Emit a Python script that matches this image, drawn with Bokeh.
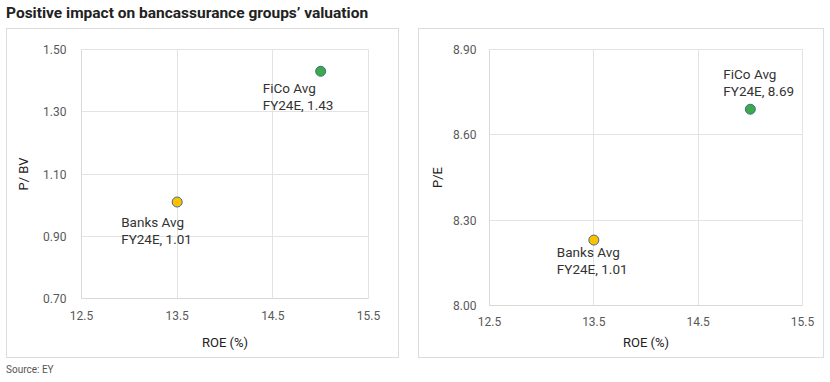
from bokeh.plotting import figure
from bokeh.layouts import column, row
from bokeh.models import Div, FixedTicker, NumeralTickFormatter, Range1d, ColumnDataSource
from bokeh.core.properties import value
from bokeh.embed import file_html
from bokeh.resources import INLINE

# ---- data ----
groups = ["Banks Avg", "FiCo Avg"]
roe = [13.5, 15.0]
pbv = [1.01, 1.43]
pe = [8.23, 8.69]
labels_pbv = ["Banks Avg\nFY24E, 1.01", "FiCo Avg\nFY24E, 1.43"]
labels_pe = ["Banks Avg\nFY24E, 1.01", "FiCo Avg\nFY24E, 8.69"]
x_ticks = [12.5, 13.5, 14.5, 15.5]
pbv_ticks = [0.70, 0.90, 1.10, 1.30, 1.50]
pe_ticks = [8.00, 8.30, 8.60, 8.90]

FONT = "Roboto"
fills = ["#FFC000", "#3DAA4A"]
GRID = "#e3e3e3"


def make_panel(yvals, labels, yticks, ylabel, width, borders, x_off, y_off,
               y_std, x_std):
    left, right, top, bottom = borders
    p = figure(width=width, height=330, output_backend="svg", toolbar_location=None,
               x_range=Range1d(x_ticks[0], x_ticks[-1]),
               y_range=Range1d(yticks[0], yticks[-1]),
               min_border_left=left, min_border_right=right,
               min_border_top=top, min_border_bottom=bottom, margin=0,
               frame_align=False,
               styles={"outline": "1px solid #dcdcdc", "outline-offset": "-1px"})
    p.background_fill_color = "white"
    p.border_fill_color = None
    p.outline_line_color = GRID
    p.xaxis.ticker = FixedTicker(ticks=x_ticks)
    p.yaxis.ticker = FixedTicker(ticks=yticks)
    p.xaxis.formatter = NumeralTickFormatter(format="0.0")
    p.yaxis.formatter = NumeralTickFormatter(format="0.00")
    for ax in (p.xaxis, p.yaxis):
        ax.axis_line_color = "#d9d9d9"
        ax.major_tick_line_color = None
        ax.minor_tick_line_color = None
        ax.major_tick_out = 0
        ax.major_tick_in = 0
        ax.minor_tick_out = 0
        ax.minor_tick_in = 0
        ax.major_label_text_font = FONT
        ax.major_label_text_font_size = "12px"
        ax.major_label_text_color = "#595959"
        ax.axis_label_text_font = FONT
        ax.axis_label_text_font_size = "13px"
        ax.axis_label_text_font_style = "normal"
        ax.axis_label_text_color = "#222222"
    p.xaxis.axis_label = "ROE (%)"
    p.yaxis.axis_label = ylabel
    p.yaxis.major_label_standoff = y_std[0]
    p.yaxis.axis_label_standoff = y_std[1]
    p.xaxis.major_label_standoff = x_std[0]
    p.xaxis.axis_label_standoff = x_std[1]
    p.xgrid.ticker = FixedTicker(ticks=x_ticks)
    p.ygrid.ticker = FixedTicker(ticks=yticks)
    p.grid.grid_line_color = GRID

    src = ColumnDataSource(dict(x=roe, y=yvals, fill=fills, label=labels,
                                xo=x_off, yo=y_off))
    p.scatter("x", "y", source=src, size=10, fill_color="fill",
              line_color="#3b6e8f", line_width=1)
    p.text("x", "y", text="label", source=src, x_offset="xo", y_offset="yo",
           text_font=value(FONT), text_font_size="13.5px", text_color="#333333",
           text_align="left", text_baseline="top", text_line_height=1.07)
    return p


p1 = make_panel(pbv, labels_pbv, pbv_ticks, "P/ BV", 393, (75, 31, 21, 60),
                [-56, -58], [12, 9], (15, 9), (12, 12))
p2 = make_panel(pe, labels_pe, pe_ticks, "P/E", 406, (71, 22, 21, 53),
                [-37, -27], [4, -43], (13, 5), (11, 6))

title = Div(text="Positive impact on bancassurance groups\u2019 valuation",
            width=824, height=28, margin=0,
            styles={"font-family": "Roboto", "font-weight": "bold", "font-size": "15.5px",
                    "color": "#222222", "line-height": "26px", "padding-left": "6px"})
source = Div(text="Source: EY", width=824, height=24, margin=0,
             styles={"font-family": "Roboto", "font-size": "10px", "color": "#555555",
                     "line-height": "24px", "padding-left": "6px"})

layout = column(title, row(p1, p2, spacing=19, margin=(0, 0, 0, 6)), source,
                spacing=0, margin=0)

open("out.html", "w").write(file_html(layout, INLINE))
